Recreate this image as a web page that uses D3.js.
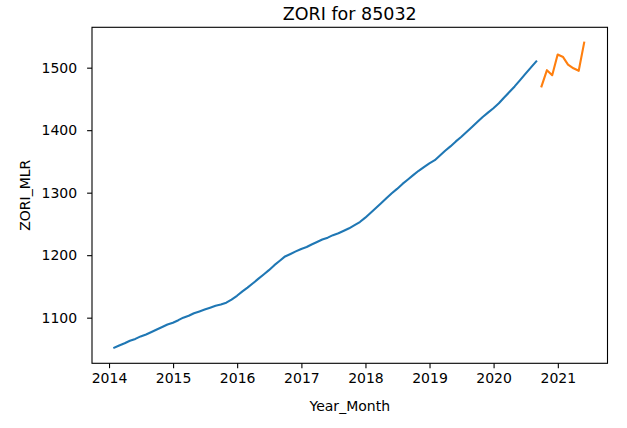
<!DOCTYPE html>
<html>
<head>
<meta charset="utf-8">
<script src="https://cdn.jsdelivr.net/npm/d3@7"></script>
<style>
  html, body { margin: 0; padding: 0; background: #fff; }
  svg { display: block; }
  text { font-family: "DejaVu Sans", sans-serif; fill: #000; }
</style>
</head>
<body>
<svg id="chart" width="627" height="428"></svg>
<script>
// ---- data (monthly, month-end dates) ----
const observedStart = "2014-01";
const observedValues = [
  1052, 1055.5, 1059, 1063, 1066, 1070, 1073, 1077, 1081, 1085, 1089, 1092,
  1096, 1100, 1103, 1107, 1110, 1113, 1116, 1119, 1121, 1124, 1129, 1135,
  1142, 1148, 1155, 1162, 1169, 1176, 1184, 1191, 1198, 1202, 1206, 1210,
  1213, 1217, 1221, 1225, 1228, 1232, 1235, 1239, 1243, 1248, 1253, 1260,
  1268, 1275, 1283, 1291, 1299, 1306, 1314, 1321, 1328, 1335, 1341, 1347,
  1352, 1359, 1367, 1374, 1382, 1389, 1397, 1405, 1413, 1421, 1428, 1435,
  1443, 1452, 1461, 1470, 1480, 1490, 1500, 1510
];
const forecastStart = "2020-09";
const forecastValues = [1470, 1496, 1488, 1521, 1517, 1505, 1499, 1495, 1540];
const yTicks = [1100, 1200, 1300, 1400, 1500];
const xTickYears = [2014, 2015, 2016, 2017, 2018, 2019, 2020, 2021];
const titleText = "ZORI for 85032";
const xLabel = "Year_Month";
const yLabel = "ZORI_MLR";

// month-end dates
function monthEnds(start, n) {
  const [y, m] = start.split("-").map(Number);
  const out = [];
  for (let i = 0; i < n; i++) out.push(new Date(y, m - 1 + i + 1, 0));
  return out;
}
const obs = monthEnds(observedStart, observedValues.length).map((d, i) => ({ d, v: observedValues[i] }));
const fc = monthEnds(forecastStart, forecastValues.length).map((d, i) => ({ d, v: forecastValues[i] }));

// ---- layout ----
const L = 92, R = 607.5, T = 27.3, B = 363.3;
const svg = d3.select("#chart");
svg.append("rect").attr("width", 627).attr("height", 428).attr("fill", "#fff");

const x = d3.scaleTime()
  .domain([new Date(2013, 8, 26), new Date(2021, 9, 11)])
  .range([L, R]);
const y = d3.scaleLinear().domain([1027, 1564.6]).range([B, T]);

const line = d3.line().x(p => x(p.d)).y(p => y(p.v));

const plot = svg.append("g");
plot.append("path").datum(obs).attr("d", line)
  .attr("fill", "none").attr("stroke", "#1f77b4").attr("stroke-width", 2.1)
  .attr("stroke-linejoin", "round").attr("stroke-linecap", "square");
plot.append("path").datum(fc).attr("d", line)
  .attr("fill", "none").attr("stroke", "#ff7f0e").attr("stroke-width", 2.1)
  .attr("stroke-linejoin", "round").attr("stroke-linecap", "square");

// axes
const xAxis = d3.axisBottom(x)
  .tickValues(xTickYears.map(yr => new Date(yr, 0, 1)))
  .tickFormat(d3.timeFormat("%Y"))
  .tickSize(4.9).tickPadding(5).tickSizeOuter(0);
const yAxis = d3.axisLeft(y)
  .tickValues(yTicks).tickFormat(d3.format("d"))
  .tickSize(4.9).tickPadding(10).tickSizeOuter(0);

const gx = svg.append("g").attr("transform", `translate(0,${B})`).call(xAxis);
const gy = svg.append("g").attr("transform", `translate(${L},0)`).call(yAxis);
[gx, gy].forEach(g => {
  g.select(".domain").remove();
  g.selectAll(".tick line").attr("stroke", "#000").attr("stroke-width", 1.1);
  g.selectAll(".tick text").attr("font-size", "14px").attr("font-family", "DejaVu Sans").attr("fill", "#000");
});

// frame
svg.append("rect").attr("x", L).attr("y", T).attr("width", R - L).attr("height", B - T)
  .attr("fill", "none").attr("stroke", "#000").attr("stroke-width", 1.1);

// labels
svg.append("text").attr("x", (L + R) / 2).attr("y", 19.5).attr("text-anchor", "middle")
  .attr("font-size", "17.5px").text(titleText);
svg.append("text").attr("x", (L + R) / 2).attr("y", 411).attr("text-anchor", "middle")
  .attr("font-size", "14px").text(xLabel);
svg.append("text").attr("transform", `translate(30,${(T + B) / 2}) rotate(-90)`)
  .attr("text-anchor", "middle").attr("font-size", "14px").text(yLabel);
</script>
</body>
</html>
